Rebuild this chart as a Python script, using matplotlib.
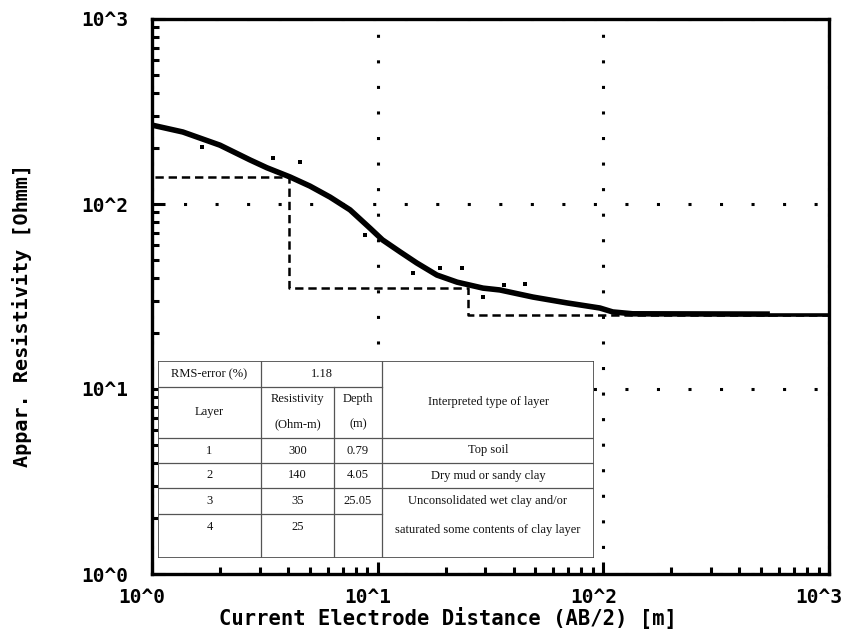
import matplotlib
matplotlib.use("Agg")
import matplotlib.pyplot as plt
import matplotlib.transforms as mtransforms
from matplotlib.ticker import FixedLocator, LogLocator, NullFormatter

plt.rcParams["lines.scale_dashes"] = False

# field sounding curve: AB/2 [m] vs apparent resistivity [Ohm-m]
ab2 = [1.0, 1.37, 2.0, 2.72, 3.23, 4.09, 5.01, 6.15, 7.54, 9.25, 10.5, 12.6,
       14.9, 18.3, 22.5, 29.3, 34.8, 48.8, 69.0, 96.6, 110.0, 135.0, 547.0]
rho_a = [267, 245, 208, 173, 157, 140, 125, 109, 93, 74, 64, 55,
         48, 41.3, 37.8, 35.1, 34.3, 31.4, 29.2, 27.4, 26.1, 25.5, 25.4]

# scattered readings
ab2_scatter = [1.67, 3.44, 4.53, 8.79, 14.3, 18.9, 23.6, 29.3, 36.3, 45.0]
rho_scatter = [203, 177, 169, 68, 42.4, 45.1, 45.1, 31.4, 36.5, 36.9]

# inverted layer model
layer_no = ["1", "2", "3", "4"]
layer_rho = [300, 140, 35, 25]
layer_depth = [0.79, 4.05, 25.05]
layer_type = ["Top soil", "Dry mud or sandy clay",
              "Unconsolidated wet clay and/or",
              "saturated some contents of clay layer"]
rms_error = 1.18

decades = [1, 10, 100, 1000]
decade_labels = ["10^0", "10^1", "10^2", "10^3"]

W, H = 843, 630
fig = plt.figure(figsize=(W / 100, H / 100), dpi=100)
ax = fig.add_axes([152 / W, 1 - 574 / H, 677 / W, 555 / H])
ax.set_xscale("log")
ax.set_yscale("log")
ax.set_xlim(1, 1000)
ax.set_ylim(1, 1000)

# model step curve
model_x = [0.5] + layer_depth + [1000]
model_y = layer_rho + [layer_rho[-1]]
ax.plot(model_x, model_y, drawstyle="steps-post", color="black",
        linewidth=1.8, linestyle=(0, (6, 3.5)), zorder=3)
ax.plot([ab2[-1], 1000], [layer_rho[-1], layer_rho[-1]], color="black",
        linewidth=2.6, zorder=3)

# measured data
ax.plot(ab2, rho_a, color="black", linewidth=4.0, solid_capstyle="butt",
        zorder=4)
ax.scatter(ab2_scatter, rho_scatter, s=6, marker="s", color="black",
           linewidths=0, zorder=4)

# dotted decade grid
ax.xaxis.grid(True, which="major", color="black", linewidth=2.2,
              linestyle=(0, (2.2, 16.2)))
ax.yaxis.grid(True, which="major", color="black", linewidth=2.2,
              linestyle=(0, (2.2, 20.5)))

for s in ax.spines.values():
    s.set_linewidth(2.4)

mono = {"family": "DejaVu Sans Mono", "weight": "bold", "size": 14}
for axis in (ax.xaxis, ax.yaxis):
    axis.set_major_locator(FixedLocator(decades))
    axis.set_minor_locator(LogLocator(base=10, subs=range(2, 10), numticks=20))
    axis.set_minor_formatter(NullFormatter())
ax.set_xticklabels(decade_labels, fontdict=mono)
ax.set_yticklabels(decade_labels, fontdict=mono)
ax.tick_params(which="major", direction="in", length=9, width=2.2)
ax.tick_params(which="minor", direction="in", length=5, width=2.2)
ax.tick_params(axis="x", which="major", pad=10)
ax.tick_params(axis="y", which="major", pad=17)

# x tick labels sit a little left of their ticks
shift = mtransforms.ScaledTranslation(-10 / 100, 0, fig.dpi_scale_trans)
for lbl in ax.get_xticklabels():
    lbl.set_transform(lbl.get_transform() + shift)

fig.text(22 / W, 1 - 315 / H, "Appar. Resistivity [Ohmm]", rotation=90,
         ha="center", va="center", **dict(mono, size=14.5))
fig.text(448 / W, 1 - 618 / H, "Current Electrode Distance (AB/2) [m]",
         ha="center", va="center", **dict(mono, size=14.8))

# results table
tab = fig.add_axes([158 / W, 1 - 558 / H, 436 / W, 197 / H], zorder=5)
tab.set_xlim(0, 436)
tab.set_ylim(197, 0)
tab.axis("off")
tab.add_patch(plt.Rectangle((0, 0), 436, 197, facecolor="white",
                            edgecolor="#444444", linewidth=1.2))

cols = [0, 103, 176, 224, 436]
rows = [0, 26, 77, 102, 127, 153, 197]
lc = "#555555"
lw = 0.9
tab.plot([cols[1], cols[1]], [0, 197], color=lc, linewidth=lw)
tab.plot([cols[2], cols[2]], [rows[1], 197], color=lc, linewidth=lw)
tab.plot([cols[3], cols[3]], [0, 197], color=lc, linewidth=lw)
for r in (rows[1], rows[5]):
    tab.plot([0, cols[3]], [r, r], color=lc, linewidth=lw)
for r in rows[2:5]:
    tab.plot([0, 436], [r, r], color=lc, linewidth=lw)

serif = {"family": "Liberation Serif", "size": 9, "color": "#111111",
         "ha": "center", "va": "center"}
cx = [(cols[i] + cols[i + 1]) / 2 for i in range(4)]
tab.text(cx[0], 13, "RMS-error (%)", **serif)
tab.text((cols[1] + cols[3]) / 2, 13, f"{rms_error:.2f}", **serif)
tab.text(cx[0], 51, "Layer", **serif)
tab.text(cx[1], 38, "Resistivity", **serif)
tab.text(cx[1], 63, "(Ohm-m)", **serif)
tab.text(cx[2], 38, "Depth", **serif)
tab.text(cx[2], 63, "(m)", **serif)
tab.text(cx[3], 41, "Interpreted type of layer", **serif)

row_y = [89.5, 114.5, 140, 166]
for i in range(4):
    tab.text(cx[0], row_y[i], layer_no[i], **serif)
    tab.text(cx[1], row_y[i], f"{layer_rho[i]}", **serif)
    if i < len(layer_depth):
        tab.text(cx[2], row_y[i], f"{layer_depth[i]:.2f}", **serif)
tab.text(cx[3], row_y[0], layer_type[0], **serif)
tab.text(cx[3], row_y[1], layer_type[1], **serif)
tab.text(cx[3], 140, layer_type[2], **serif)
tab.text(cx[3], 169, layer_type[3], **serif)

fig.savefig("out.png", dpi=100)
